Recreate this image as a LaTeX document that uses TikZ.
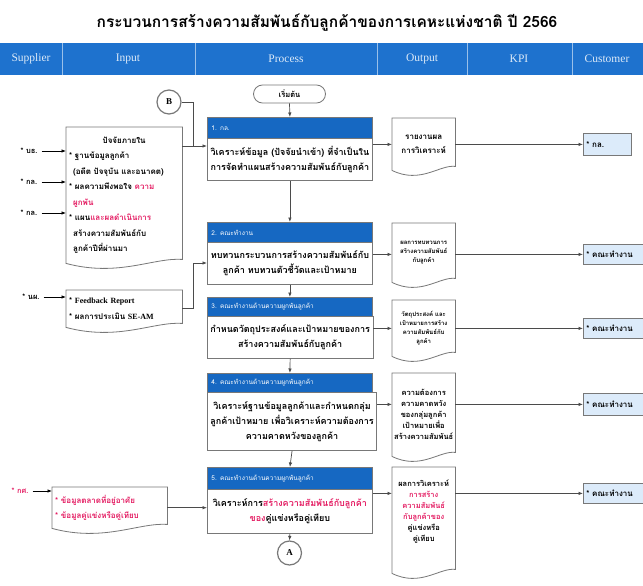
\documentclass[tikz,border=0pt]{standalone}
\usepackage{fontspec}
\setmainfont{Liberation Serif}
\newfontfamily\thai[Script=Thai]{Loma}
\usetikzlibrary{calc,arrows.meta}
\definecolor{hdrblue}{RGB}{30,114,206}
\definecolor{boxblue}{RGB}{22,104,194}
\definecolor{custfill}{RGB}{220,235,250}
\definecolor{redtxt}{RGB}{228,28,98}
\definecolor{linegray}{RGB}{75,75,75}
\definecolor{bordergray}{RGB}{120,120,120}
\newcommand\rd[1]{\textcolor{redtxt}{#1}}
\newcommand\docshape[1]{%
  \draw[docline] (#1.north west) -- (#1.north east) -- ($(#1.south east)+(0,-4)$)
    .. controls ($(#1.south west)!0.75!(#1.south east)+(0,-6)$) and ($(#1.south west)!0.45!(#1.south east)+(0,14)$) .. (#1.south west) -- cycle;}
\begin{document}
\begin{tikzpicture}[x=1pt,y=-1pt,
  arr/.style={draw=linegray, line width=0.7pt, -{Latex[length=4.5pt,width=3.5pt]}},
  sarr/.style={draw=black, line width=0.7pt, -{Latex[length=4.5pt,width=3.5pt]}},
  docline/.style={draw=bordergray, line width=0.8pt},
  phead/.style={draw=bordergray, fill=boxblue, line width=0.8pt, anchor=north west, minimum width=165pt, text width=157pt, inner xsep=4pt, inner ysep=0pt, align=left, text=white, font=\thai\fontsize{6.5}{7}\selectfont},
  pbody/.style={draw=bordergray, fill=white, line width=0.8pt, anchor=north west, minimum width=165pt, inner xsep=3pt, inner ysep=0pt, align=center, font=\thai\bfseries\fontsize{9}{15}\selectfont},
  outdoc/.style={anchor=north west, minimum width=63pt, inner xsep=1pt, inner ysep=0pt, align=center, font=\thai\bfseries\fontsize{7.5}{11}\selectfont},
  indoc/.style={anchor=north west, inner xsep=3pt, inner ysep=0pt, align=left, font=\thai\bfseries\fontsize{8}{15.5}\selectfont},
  cust/.style={draw=bordergray, fill=custfill, line width=0.8pt, anchor=north west, inner xsep=3pt, inner ysep=0pt, align=left, font=\thai\bfseries\fontsize{8}{9}\selectfont},
  supp/.style={inner sep=1pt, font=\thai\bfseries\fontsize{7.5}{9}\selectfont},
  conn/.style={circle, draw=bordergray, line width=1.2pt, minimum size=24pt, inner sep=0pt, font=\bfseries\fontsize{9}{9}\selectfont},
  hdrtxt/.style={text=white!85!hdrblue, font=\fontsize{11.5}{11.5}\selectfont}
]
\useasboundingbox (0,0) rectangle (643,586);
\fill[white] (0,0) rectangle (643,586);
% title
\node[font=\thai\bfseries\fontsize{15.5}{18}\selectfont] (title) at (327,23) {กระบวนการสร้างความสัมพันธ์กับลูกค้าของการเคหะแห่งชาติ ปี 2566};
% header band
\fill[hdrblue] (0,43) rectangle (643,75);
\foreach \x in {62,195,377,467,572} \draw[white!55!hdrblue, line width=0.8pt] (\x,43) -- (\x,75);
\node[hdrtxt] (hS) at (31,59) {Supplier};
\node[hdrtxt] (hI) at (128,59) {Input};
\node[hdrtxt] (hP) at (286,59) {Process};
\node[hdrtxt] (hO) at (422,59) {Output};
\node[hdrtxt] (hK) at (519,59) {KPI};
\node[hdrtxt] (hC) at (607,59) {Customer};
% start and connectors
\node[draw=bordergray, line width=0.8pt, rounded corners=9pt, minimum width=72pt, minimum height=18pt, inner sep=0pt, font=\thai\bfseries\fontsize{7.5}{8}\selectfont] (start) at (289.5,94) {เริ่มต้น};
\node[conn] (B) at (169,102) {B};
% process boxes
\node[phead, minimum height=21pt] (h1) at (207,117) {1. กล.};
\node[pbody, minimum height=42pt] (p1) at (207,138) {วิเคราะห์ข้อมูล (ปัจจัยนำเข้า) ที่จำเป็นใน\\การจัดทำแผนสร้างความสัมพันธ์กับลูกค้า};
\node[phead, minimum height=20pt] (h2) at (207,222) {2. คณะทำงาน};
\node[pbody, minimum height=42pt] (p2) at (207,242) {ทบทวนกระบวนการสร้างความสัมพันธ์กับ\\ลูกค้า ทบทวนตัวชี้วัดและเป้าหมาย};
\node[phead, minimum height=19pt] (h3) at (207,297) {3. คณะทำงานด้านความผูกพันลูกค้า};
\node[pbody, minimum height=42pt] (p3) at (207,316) {กำหนดวัตถุประสงค์และเป้าหมายของการ\\สร้างความสัมพันธ์กับลูกค้า};
\node[phead, minimum height=19pt] (h4) at (207,373) {4. คณะทำงานด้านความผูกพันลูกค้า};
\node[pbody, minimum height=58pt] (p4) at (207,392) {วิเคราะห์ฐานข้อมูลลูกค้าและกำหนดกลุ่ม\\ลูกค้าเป้าหมาย เพื่อวิเคราะห์ความต้องการ\\ความคาดหวังของลูกค้า};
\node[phead, minimum height=22pt] (h5) at (207,467) {5. คณะทำงานด้านความผูกพันลูกค้า};
\node[pbody, minimum height=44pt] (p5) at (207,489) {วิเคราะห์การ\rd{สร้างความสัมพันธ์กับลูกค้า}\\\rd{ของ}คู่แข่งหรือคู่เทียบ};
\node[conn] (A) at (289.5,553) {A};
% outputs
\node[outdoc, minimum height=52pt, font=\thai\bfseries\fontsize{8}{14}\selectfont] (o1) at (392,118) {รายงานผล\\การวิเคราะห์};
\node[outdoc, minimum height=59pt, font=\thai\bfseries\fontsize{6}{9}\selectfont] (o2) at (392,223) {ผลการทบทวนการ\\สร้างความสัมพันธ์\\กับลูกค้า};
\node[outdoc, minimum height=56pt, font=\thai\bfseries\fontsize{6}{9}\selectfont] (o3) at (392,300) {วัตถุประสงค์ และ\\เป้าหมายการสร้าง\\ความสัมพันธ์กับ\\ลูกค้า};
\node[outdoc, minimum height=83pt] (o4) at (392,373) {ความต้องการ\\ความคาดหวัง\\ของกลุ่มลูกค้า\\เป้าหมายเพื่อ\\สร้างความสัมพันธ์};
\node[outdoc, minimum height=106pt] (o5) at (392,467) {ผลการวิเคราะห์\\\rd{การสร้าง}\\\rd{ความสัมพันธ์}\\\rd{กับลูกค้าของ}\\คู่แข่งหรือ\\คู่เทียบ\\[8pt]};
\docshape{o1}\docshape{o2}\docshape{o3}\docshape{o4}\docshape{o5}
% customers
\node[cust, minimum width=48pt, minimum height=22pt, text width=42pt] (c1) at (583,133) {* กล.};
\node[cust, minimum width=62pt, minimum height=20pt, text width=56pt] (c2) at (583,244) {* คณะทำงาน};
\node[cust, minimum width=62pt, minimum height=20pt, text width=56pt] (c3) at (583,318) {* คณะทำงาน};
\node[cust, minimum width=62pt, minimum height=22pt, text width=56pt] (c4) at (583,393) {* คณะทำงาน};
\node[cust, minimum width=62pt, minimum height=20pt, text width=56pt] (c5) at (583,483) {* คณะทำงาน};
% inputs
\node[indoc, minimum width=116pt, minimum height=136pt, text width=110pt] (in1) at (66,127) {\makebox[110pt][c]{ปัจจัยภายใน}\\{}* ฐานข้อมูลลูกค้า\\\hspace*{4pt}(อดีต ปัจจุบัน และอนาคต)\\{}* ผลความพึงพอใจ \rd{ความ}\\\hspace*{4pt}\rd{ผูกพัน}\\{}* แผน\rd{และผลดำเนินการ}\\\hspace*{4pt}สร้างความสัมพันธ์กับ\\\hspace*{4pt}ลูกค้าปีที่ผ่านมา};
\node[indoc, minimum width=116pt, minimum height=37pt, text width=110pt] (fb) at (66,290) {{}* {\rmfamily Feedback Report}\\{}* ผลการประเมิน {\rmfamily SE-AM}};
\node[indoc, minimum width=115pt, minimum height=41pt, text width=109pt, text=redtxt] (in5) at (52,487) {{}* ข้อมูลตลาดที่อยู่อาศัย\\{}* ข้อมูลคู่แข่งหรือคู่เทียบ};
\docshape{in1}\docshape{fb}\docshape{in5}
% suppliers
\node[supp] (s1) at (29,151) {* บธ.};
\node[supp] (s2) at (29,182) {* กล.};
\node[supp] (s3) at (29,213) {* กล.};
\node[supp] (s4) at (31,297) {* นผ.};
\node[supp, text=redtxt] (s5) at (20,491) {* กศ.};
\draw[sarr, shorten <=3pt] (s1.east) -- (in1.west |- s1.east);
\draw[sarr, shorten <=3pt] (s2.east) -- (in1.west |- s2.east);
\draw[sarr, shorten <=3pt] (s3.east) -- (in1.west |- s3.east);
\draw[sarr, shorten <=3pt] (s4.east) -- (fb.west |- s4.east);
\draw[sarr, shorten <=3pt] (s5.east) -- (in5.west |- s5.east);
% connectors
\draw[arr] (start.south) -- (h1.north);
\coordinate (bj) at (193,146);
\draw[arr] (in1.east |- bj) -- (p1.west |- bj);
\draw[linegray, line width=0.7pt] (B.east) -| (bj);
\coordinate (fj) at (193,263);
\draw[arr] (fb.east) -| (fj) -- (p2.west |- fj);
\draw[arr] (in5.east) -- (p5.west |- in5.east);
\draw[arr] (p1.south) -- (h2.north);
\draw[arr] (p2.south) -- (h3.north);
\draw[arr] (p3.south) -- (h4.north);
\draw[arr] (p4.south) -- (h5.north);
\draw[arr] (p5.south) -- (A.north);
\draw[arr] (p1.east |- c1.west) -- (o1.west |- c1.west);
\draw[arr] (o1.east |- c1.west) -- (c1.west);
\draw[arr] (p2.east |- c2.west) -- (o2.west |- c2.west);
\draw[arr] (o2.east |- c2.west) -- (c2.west);
\draw[arr] (p3.east |- c3.west) -- (o3.west |- c3.west);
\draw[arr] (o3.east |- c3.west) -- (c3.west);
\draw[arr] (p4.east |- c4.west) -- (o4.west |- c4.west);
\draw[arr] (o4.east |- c4.west) -- (c4.west);
\draw[arr] (p5.east |- c5.west) -- (o5.west |- c5.west);
\draw[arr] (o5.east |- c5.west) -- (c5.west);
\end{tikzpicture}
\end{document}
